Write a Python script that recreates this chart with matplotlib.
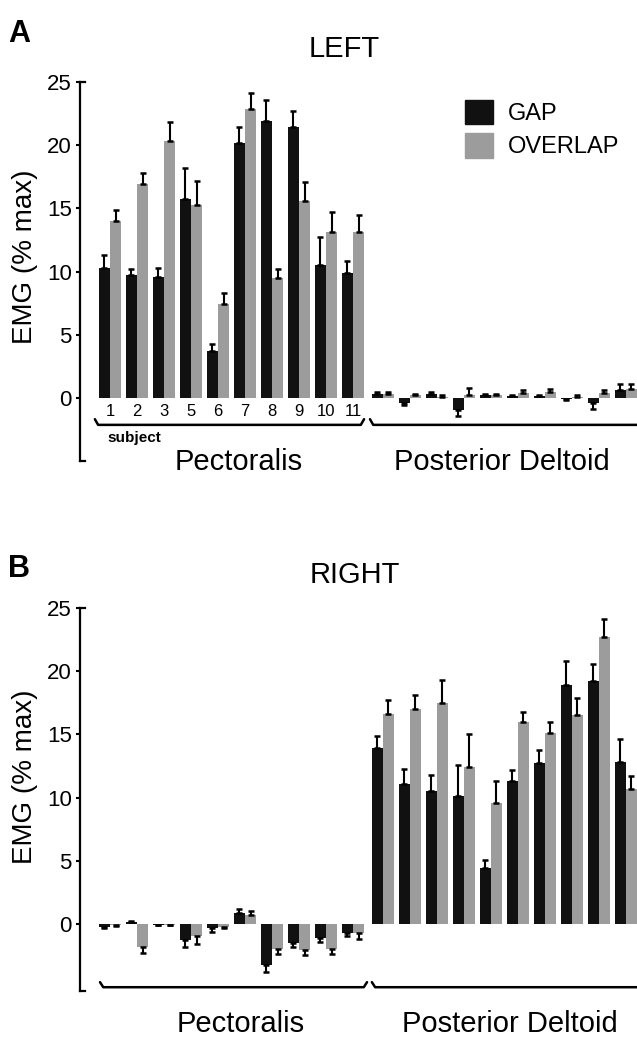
import numpy as np
import matplotlib
matplotlib.use('Agg')
import matplotlib.pyplot as plt
from matplotlib.patches import Patch

plt.rcParams['font.family'] = ['Liberation Sans', 'DejaVu Sans']

subjects = ['1', '2', '3', '5', '6', '7', '8', '9', '10', '11']
muscles = ['Pectoralis', 'Posterior Deltoid']
conditions = ['GAP', 'OVERLAP']

# LEFT (panel A)
left_pect_gap = [10.3, 9.7, 9.6, 15.7, 3.7, 20.2, 21.9, 21.4, 10.5, 9.9]
left_pect_gap_err = [1.0, 0.5, 0.7, 2.5, 0.6, 1.2, 1.7, 1.3, 2.2, 0.9]
left_pect_ovl = [14.0, 16.9, 20.3, 15.3, 7.4, 22.9, 9.5, 15.6, 13.1, 13.1]
left_pect_ovl_err = [0.9, 0.9, 1.5, 1.9, 0.9, 1.2, 0.7, 1.5, 1.6, 1.4]
left_post_gap = [0.3, -0.4, 0.3, -1.0, 0.2, 0.15, 0.15, -0.1, -0.4, 0.6]
left_post_gap_err = [0.2, 0.2, 0.2, 0.4, 0.1, 0.1, 0.1, 0.1, 0.5, 0.5]
left_post_ovl = [0.3, 0.2, 0.1, 0.2, 0.2, 0.4, 0.5, 0.1, 0.4, 0.7]
left_post_ovl_err = [0.2, 0.1, 0.1, 0.6, 0.1, 0.2, 0.2, 0.1, 0.2, 0.4]

# RIGHT (panel B)
right_pect_gap = [-0.2, 0.15, -0.05, -1.25, -0.3, 0.85, -3.25, -1.5, -1.1, -0.75]
right_pect_gap_err = [0.1, 0.1, 0.05, 0.55, 0.3, 0.35, 0.55, 0.3, 0.3, 0.2]
right_pect_ovl = [-0.1, -1.8, -0.05, -0.95, -0.2, 0.7, -2.0, -2.05, -2.0, -0.75]
right_pect_ovl_err = [0.05, 0.5, 0.05, 0.6, 0.1, 0.3, 0.4, 0.4, 0.4, 0.4]
right_post_gap = [13.9, 11.1, 10.5, 10.1, 4.45, 11.3, 12.7, 18.9, 19.2, 12.8]
right_post_gap_err = [1.0, 1.2, 1.3, 2.5, 0.65, 0.9, 1.1, 1.9, 1.4, 1.8]
right_post_ovl = [16.6, 17.0, 17.5, 12.4, 9.6, 16.0, 15.1, 16.5, 22.7, 10.7]
right_post_ovl_err = [1.1, 1.1, 1.8, 2.6, 1.7, 0.8, 0.9, 1.4, 1.4, 1.0]

W, H = 637, 1037
GAP_COL = '#111111'
OVL_COL = '#9c9c9c'
fig = plt.figure(figsize=(W / 100, H / 100), dpi=100)


def px_axes(x0, y0, x1, y1):
    return fig.add_axes([x0 / W, 1 - y1 / H, (x1 - x0) / W, (y1 - y0) / H])


def one_sided(vals, errs):
    vals = np.asarray(vals); errs = np.asarray(errs)
    lo = np.where(vals < 0, errs, 0)
    hi = np.where(vals >= 0, errs, 0)
    return [lo, hi]


def bracket(ax, x0, x1, y, h):
    ax.plot([x0, x0 + 0.12, x1 - 0.12, x1], [y + h, y, y, y + h],
            color='black', lw=1.8, clip_on=False, solid_capstyle='round')


def panel(ax, pg, pge, po, poe, dg, dge, do, doe, ybot):
    pect = np.arange(10)
    post = 10.11 + np.arange(10)
    w = 0.41
    for xs, g, ge, o, oe in [(pect, pg, pge, po, poe), (post, dg, dge, do, doe)]:
        ax.bar(xs - w / 2, g, w, color=GAP_COL, zorder=2)
        ax.bar(xs + w / 2, o, w, color=OVL_COL, zorder=2)
        ax.errorbar(xs - w / 2, g, yerr=one_sided(g, ge), fmt='none', ecolor='black',
                    elinewidth=1.5, capsize=2.2, capthick=1.8, zorder=3)
        ax.errorbar(xs + w / 2, o, yerr=one_sided(o, oe), fmt='none', ecolor='black',
                    elinewidth=1.5, capsize=2.2, capthick=1.8, zorder=3)
    ax.set_xlim(-30 / 27, 19.52)
    ax.set_ylim(ybot, 25)
    for s in ['top', 'right', 'bottom']:
        ax.spines[s].set_visible(False)
    ax.spines['left'].set_linewidth(1.6)
    ax.set_xticks([])
    ax.set_yticks([0, 5, 10, 15, 20, 25])
    ax.tick_params(axis='y', direction='out', length=3, width=1.5, labelsize=16, pad=3)
    ax.set_ylabel('EMG (% max)', fontsize=20)
    # hooks at the ends of the y spine
    x0 = ax.get_xlim()[0]
    ax.plot([x0, x0 + 0.2], [25, 25], color='black', lw=1.6, clip_on=False)
    ax.plot([x0, x0 + 0.2], [ybot, ybot], color='black', lw=1.6, clip_on=False)
    return pect, post


# panel A
axA = px_axes(80, 82, W, 461)
pect, post = panel(axA, left_pect_gap, left_pect_gap_err, left_pect_ovl, left_pect_ovl_err,
                   left_post_gap, left_post_gap_err, left_post_ovl, left_post_ovl_err, -5)
axA.yaxis.set_label_coords(-0.075, 0.54)
for x, s in zip(pect, subjects):
    axA.text(x, -1.1, s, ha='center', va='center', fontsize=12)
axA.text(0.9, -3.2, 'subject', ha='center', va='center', fontsize=11, fontweight='bold')
bracket(axA, -0.56, 9.41, -2.14, 0.45)
bracket(axA, 9.63, 19.9, -2.14, 0.45)
axA.text(4.78, -5.7, muscles[0], ha='center', va='baseline', fontsize=21)
axA.text(14.5, -5.7, muscles[1], ha='center', va='baseline', fontsize=21)
axA.legend(handles=[Patch(color=GAP_COL), Patch(color=OVL_COL)], labels=conditions,
           loc='upper left', bbox_to_anchor=(465 / W, 1 - 100 / H), bbox_transform=fig.transFigure,
           frameon=False, fontsize=17, handlelength=1.2, handleheight=1.2,
           handletextpad=0.6, labelspacing=0.35, borderpad=0, borderaxespad=0)

# panel B
axB = px_axes(80, 608, W, 991)
pect, post = panel(axB, right_pect_gap, right_pect_gap_err, right_pect_ovl, right_pect_ovl_err,
                   right_post_gap, right_post_gap_err, right_post_ovl, right_post_ovl_err, -5.3)
axB.yaxis.set_label_coords(-0.075, 0.56)
bracket(axB, -0.37, 9.52, -5.0, 0.4)
bracket(axB, 9.7, 19.9, -5.0, 0.4)
axB.text(4.85, -8.54, muscles[0], ha='center', va='baseline', fontsize=21)
axB.text(14.8, -8.54, muscles[1], ha='center', va='baseline', fontsize=21)

# titles and panel letters
fig.text(8 / W, 1 - 42 / H, 'A', fontsize=22, fontweight='bold', ha='left', va='baseline')
fig.text(344 / W, 1 - 57 / H, 'LEFT', fontsize=21, ha='center', va='baseline')
fig.text(8 / W, 1 - 577 / H, 'B', fontsize=22, fontweight='bold', ha='left', va='baseline')
fig.text(355 / W, 1 - 583 / H, 'RIGHT', fontsize=21, ha='center', va='baseline')

fig.savefig('out.png', dpi=100)
